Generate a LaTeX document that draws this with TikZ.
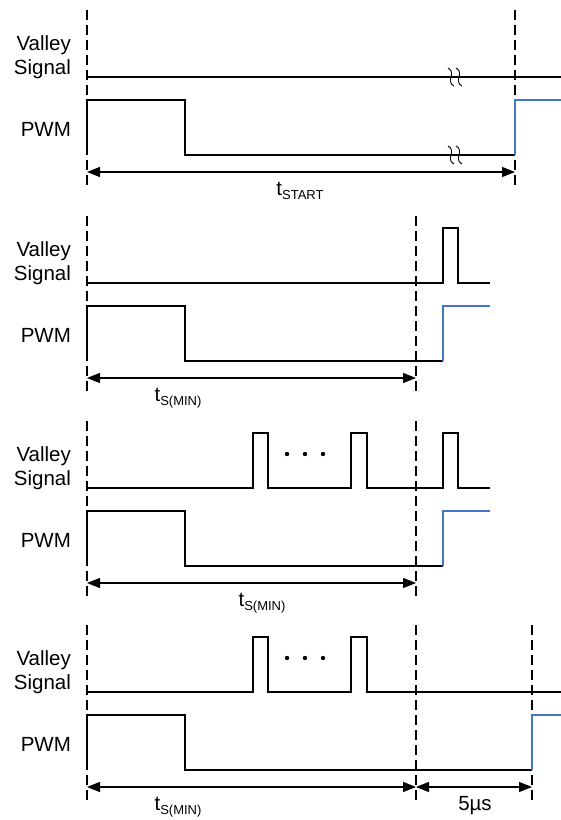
\documentclass[tikz,border=0pt]{standalone}
\usepackage{fontspec}
\setmainfont{Liberation Sans}
\usetikzlibrary{arrows.meta}
\definecolor{edgeblue}{RGB}{68,114,196}

\newcommand{\tsub}[2]{#1\raisebox{-4.5pt}{\fontsize{13}{13}\selectfont #2}}

\begin{document}
\begin{tikzpicture}[x=1pt, y=-1pt, line width=1.6pt,
    guide/.style={line width=1.5pt, dash pattern=on 10pt off 5pt},
    dim/.style={line width=1.3pt, {Triangle[length=13pt,width=10pt]}-{Triangle[length=13pt,width=10pt]}},
    lab/.style={font=\fontsize{20.5}{24}\selectfont},
    squig/.style={line width=0.9pt}]
	\useasboundingbox (0,0) rectangle (561,820);

	% ---- start-up: no valley signal ----
	\begin{scope}[shift={(0,77)}]
		\node[lab, anchor=base east] (valA) at (75,-27) {Valley};
		\node[lab, anchor=base east] (sigA) at (75,-3) {Signal};
		\node[lab, anchor=base east] (pwmA) at (75,59) {PWM};
		\draw[guide] (87,-67) -- (87,111);
		\draw[guide] (515,-67) -- (515,111);
		\draw (87,0) -- (561,0);
		\draw (87,78) -- (87,23) -- (185,23) -- (185,78) -- (515,78);
		\draw[edgeblue] (515,78) -- (515,23) -- (561,23);
		\foreach \y in {0, 78}
			\foreach \x in {451, 459}
				\draw[squig] (\x-3,\y-9) .. controls (\x+6,\y-4) and (\x-6,\y+4) .. (\x+3,\y+9);
		\coordinate (a1) at (87,95);
		\coordinate (b1) at (515,95);
		\draw[dim] (a1) -- (b1);
		\node[lab, anchor=base] (tA) at (300,118) {\tsub{t}{START}};
	\end{scope}

	% ---- valley right after t_S(MIN) ----
	\begin{scope}[shift={(0,283)}]
		\node[lab, anchor=base east] (valB) at (75,-27) {Valley};
		\node[lab, anchor=base east] (sigB) at (75,-3) {Signal};
		\node[lab, anchor=base east] (pwmB) at (75,59) {PWM};
		\draw[guide] (87,-67) -- (87,111);
		\draw[guide] (416,-67) -- (416,111);
		\draw (87,0) -- (443,0) -- (443,-55) -- (458,-55) -- (458,0) -- (490,0);
		\draw (87,78) -- (87,23) -- (185,23) -- (185,78) -- (443,78);
		\draw[edgeblue] (443,78) -- (443,23) -- (490,23);
		\coordinate (a2) at (87,95);
		\coordinate (b2) at (416,95);
		\draw[dim] (a2) -- (b2);
		\node[lab, anchor=base] (tB) at (178,118) {\tsub{t}{S(MIN)}};
	\end{scope}

	% ---- valleys inside t_S(MIN) are ignored ----
	\begin{scope}[shift={(0,488)}]
		\node[lab, anchor=base east] (valC) at (75,-27) {Valley};
		\node[lab, anchor=base east] (sigC) at (75,-3) {Signal};
		\node[lab, anchor=base east] (pwmC) at (75,59) {PWM};
		\draw[guide] (87,-67) -- (87,111);
		\draw[guide] (416,-67) -- (416,111);
		\draw (87,0) -- (253,0) -- (253,-55) -- (268,-55) -- (268,0)
			-- (351,0) -- (351,-55) -- (367,-55) -- (367,0)
			-- (443,0) -- (443,-55) -- (458,-55) -- (458,0) -- (490,0);
		\foreach \x in {287, 305, 323} \fill (\x,-34) circle (2.2pt);
		\draw (87,78) -- (87,23) -- (185,23) -- (185,78) -- (443,78);
		\draw[edgeblue] (443,78) -- (443,23) -- (490,23);
		\coordinate (a3) at (87,95);
		\coordinate (b3) at (416,95);
		\draw[dim] (a3) -- (b3);
		\node[lab, anchor=base] (tC) at (262,118) {\tsub{t}{S(MIN)}};
	\end{scope}

	% ---- no valley after t_S(MIN): 5us timeout ----
	\begin{scope}[shift={(0,692)}]
		\node[lab, anchor=base east] (valD) at (75,-27) {Valley};
		\node[lab, anchor=base east] (sigD) at (75,-3) {Signal};
		\node[lab, anchor=base east] (pwmD) at (75,59) {PWM};
		\draw[guide] (87,-67) -- (87,111);
		\draw[guide] (416,-67) -- (416,111);
		\draw[guide] (532,-67) -- (532,111);
		\draw (87,0) -- (253,0) -- (253,-55) -- (268,-55) -- (268,0)
			-- (351,0) -- (351,-55) -- (367,-55) -- (367,0) -- (561,0);
		\foreach \x in {287, 305, 323} \fill (\x,-34) circle (2.2pt);
		\draw (87,78) -- (87,23) -- (185,23) -- (185,78) -- (532,78);
		\draw[edgeblue] (532,78) -- (532,23) -- (561,23);
		\coordinate (a4) at (87,95);
		\coordinate (b4) at (416,95);
		\coordinate (c4) at (532,95);
		\draw[dim] (a4) -- (b4);
		\draw[dim] (b4) -- (c4);
		\node[lab, anchor=base] (tD) at (178,118) {\tsub{t}{S(MIN)}};
		\node[lab, anchor=base] (tE) at (475,118) {5µs};
	\end{scope}
\end{tikzpicture}
\end{document}
